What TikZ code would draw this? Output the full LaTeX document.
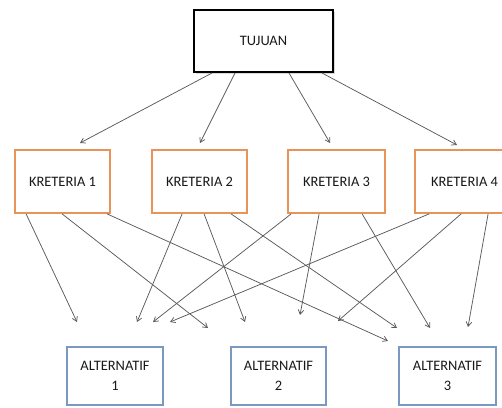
\documentclass[tikz,border=0pt]{standalone}
\usepackage{fontspec}
\setmainfont{Carlito}
\usetikzlibrary{arrows.meta,shadows}
\definecolor{critc}{RGB}{232,148,88}
\definecolor{altc}{RGB}{122,152,192}
\definecolor{linec}{RGB}{90,90,90}
\begin{document}
\begin{tikzpicture}[x=1bp,y=-1bp,
  box/.style={draw,fill=white,inner sep=2bp,align=center,font=\fontsize{14.5}{20}\selectfont,text=black!90},
  goal/.style={box,line width=2bp,draw=black,minimum width=139bp,minimum height=62bp,
    drop shadow={shadow xshift=1.5bp,shadow yshift=-1.5bp,opacity=0.3}},
  crit/.style={box,line width=1.8bp,draw=critc,minimum width=95bp,minimum height=63bp},
  alt/.style={box,line width=1.8bp,draw=altc,minimum width=96bp,minimum height=58bp},
  link/.style={draw=linec,line width=0.75bp,-{Straight Barb[length=4.5bp,width=5.5bp]}}]
\useasboundingbox (0,0) rectangle (502,407);
\clip (0,0) rectangle (502,407);
% nodes
\node[goal] (g) at (263.5,41) {TUJUAN};
\node[crit] (k1) at (62.5,181.5) {KRETERIA 1};
\node[crit] (k2) at (199.5,181.5) {KRETERIA 2};
\node[crit,minimum width=97bp] (k3) at (336.5,181.5) {KRETERIA 3};
\node[crit,minimum width=99bp] (k4) at (464.5,181.5) {KRETERIA 4};
\node[alt] (a1) at (115,376) {ALTERNATIF\\1};
\node[alt,minimum width=95bp] (a2) at (278.5,376) {ALTERNATIF\\2};
\node[alt,minimum width=97bp] (a3) at (447.5,376) {ALTERNATIF\\3};
% free arrow ends
\coordinate (t1) at (80,143);
\coordinate (t2) at (200,143);
\coordinate (t3) at (330,143);
\coordinate (t4) at (457,145);
\coordinate (e11) at (77,322);
\coordinate (e12) at (208,328);
\coordinate (e13) at (388,341);
\coordinate (e21) at (137,322);
\coordinate (e22) at (245,322);
\coordinate (e23) at (397,328);
\coordinate (e31) at (153,322);
\coordinate (e32) at (300,315);
\coordinate (e33) at (430,328);
\coordinate (e41) at (170,322);
\coordinate (e42) at (338,321);
\coordinate (e43) at (468,327);
% goal to criteria
\draw[link] ([xshift=19bp]g.south west) -- (t1);
\draw[link] ([xshift=42bp]g.south west) -- (t2);
\draw[link] ([xshift=96bp]g.south west) -- (t3);
\draw[link] ([xshift=129bp]g.south west) -- (t4);
% criteria to alternatives
\draw[link] ([xshift=12bp]k1.south west) -- (e11);
\draw[link] ([xshift=48bp]k1.south west) -- (e12);
\draw[link] ([xshift=93bp]k1.south west) -- (e13);
\draw[link] ([xshift=31bp]k2.south west) -- (e21);
\draw[link] ([xshift=53bp]k2.south west) -- (e22);
\draw[link] ([xshift=80bp]k2.south west) -- (e23);
\draw[link] ([xshift=4bp]k3.south west) -- (e31);
\draw[link] ([xshift=32bp]k3.south west) -- (e32);
\draw[link] ([xshift=75bp]k3.south west) -- (e33);
\draw[link] ([xshift=15bp]k4.south west) -- (e41);
\draw[link] ([xshift=47bp]k4.south west) -- (e42);
\draw[link] ([xshift=74bp]k4.south west) -- (e43);
\end{tikzpicture}
\end{document}
